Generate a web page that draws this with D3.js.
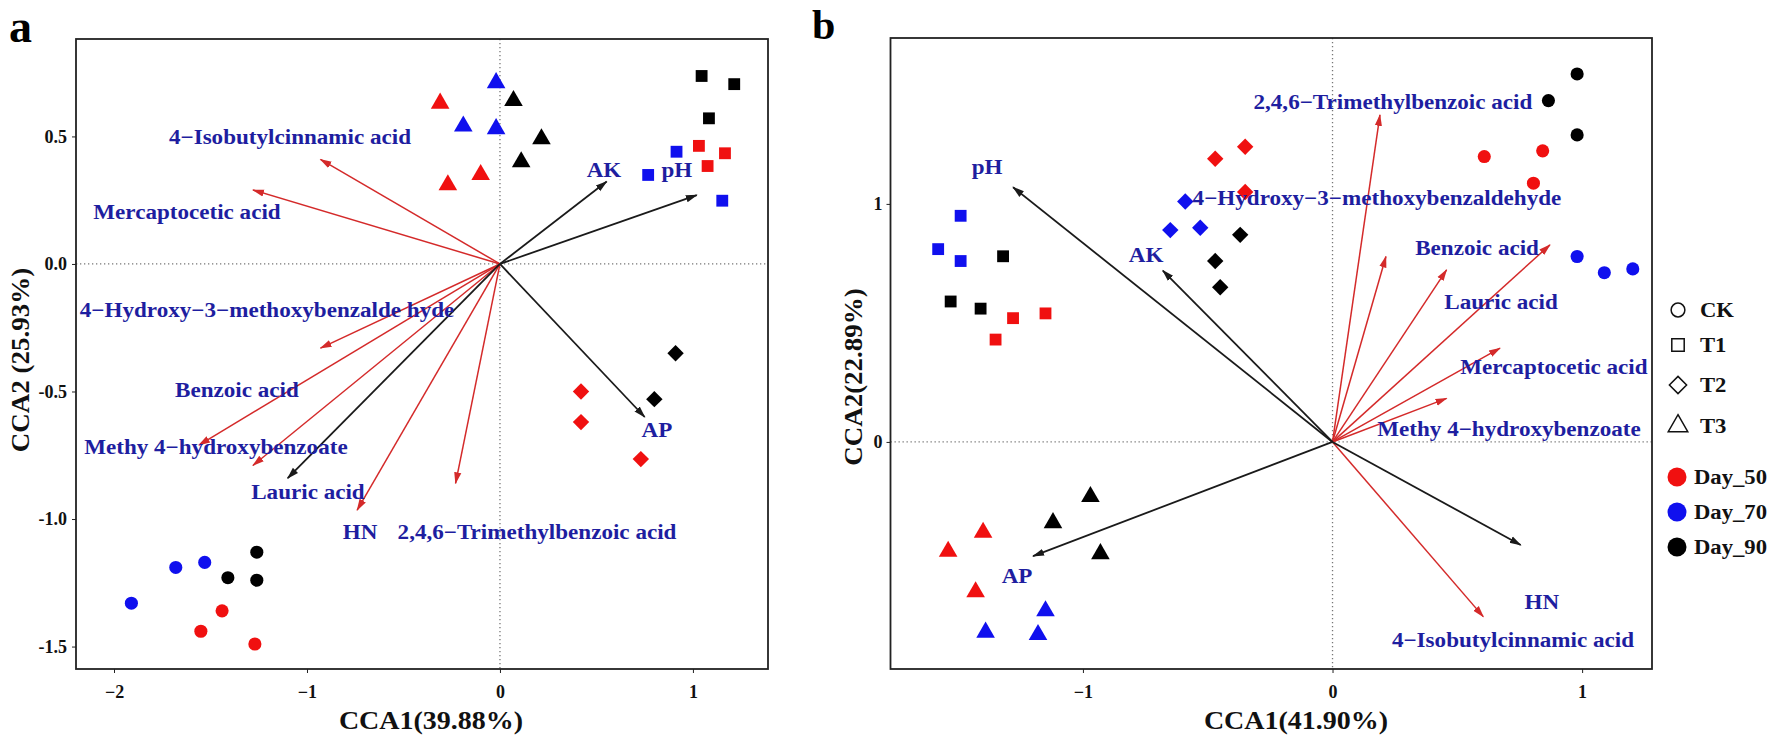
<!DOCTYPE html>
<html>
<head>
<meta charset="utf-8">
<script src="https://cdn.jsdelivr.net/npm/d3@7"></script>
<style>
  body { margin: 0; background: #fff; }
  text { font-family: "Liberation Serif", "Times New Roman", serif; font-weight: bold; }
</style>
</head>
<body>
<script>
// groups
var treatments = ["CK", "T1", "T2", "T3"];
var days = ["Day_50", "Day_70", "Day_90"];
var dayColors = ["#f01010", "#1010ee", "#000000"];

// panel a sites: [CCA1, CCA2, treatment, day]
var sitesA = [
  [-1.91, -1.33, "CK", "Day_70"], [-1.68, -1.19, "CK", "Day_70"], [-1.53, -1.17, "CK", "Day_70"],
  [-1.41, -1.23, "CK", "Day_90"], [-1.26, -1.13, "CK", "Day_90"], [-1.26, -1.24, "CK", "Day_90"],
  [-1.44, -1.36, "CK", "Day_50"], [-1.55, -1.44, "CK", "Day_50"], [-1.27, -1.49, "CK", "Day_50"],
  [1.045, 0.737, "T1", "Day_90"], [1.214, 0.705, "T1", "Day_90"], [1.083, 0.571, "T1", "Day_90"],
  [1.031, 0.463, "T1", "Day_50"], [1.166, 0.434, "T1", "Day_50"], [1.076, 0.384, "T1", "Day_50"],
  [0.915, 0.44, "T1", "Day_70"], [0.768, 0.349, "T1", "Day_70"], [1.152, 0.248, "T1", "Day_70"],
  [0.42, -0.50, "T2", "Day_50"], [0.42, -0.62, "T2", "Day_50"], [0.73, -0.765, "T2", "Day_50"],
  [0.80, -0.53, "T2", "Day_90"], [0.91, -0.35, "T2", "Day_90"],
  [-0.02, 0.71, "T3", "Day_70"], [-0.19, 0.54, "T3", "Day_70"], [-0.02, 0.53, "T3", "Day_70"],
  [-0.31, 0.63, "T3", "Day_50"], [-0.10, 0.35, "T3", "Day_50"], [-0.27, 0.31, "T3", "Day_50"],
  [0.07, 0.64, "T3", "Day_90"], [0.215, 0.49, "T3", "Day_90"], [0.11, 0.40, "T3", "Day_90"]
];

// panel a arrows: [CCA1, CCA2, kind]
var arrowsA = [
  [-0.93, 0.41, "acid"], [-1.28, 0.29, "acid"], [-0.93, -0.33, "acid"], [-1.56, -0.71, "acid"],
  [-1.28, -0.79, "acid"], [-0.74, -0.965, "acid"], [-0.23, -0.86, "acid"],
  [0.553, 0.323, "soil"], [1.02, 0.27, "soil"], [0.75, -0.60, "soil"], [-1.10, -0.84, "soil"]
];

// panel a labels: [text, CCA1, CCA2]
var labelsA = [
  ["4\u2212Isobutylcinnamic acid", -1.088, 0.498],
  ["Mercaptocetic acid", -1.622, 0.204],
  ["4\u2212Hydroxy\u22123\u2212methoxybenzalde hyde", -1.207, -0.18],
  ["Benzoic acid", -1.363, -0.494],
  ["Methy 4\u2212hydroxybenzoate", -1.472, -0.718],
  ["Lauric acid", -0.995, -0.894],
  ["HN", -0.725, -1.051],
  ["2,4,6\u2212Trimethylbenzoic acid", 0.192, -1.051],
  ["AK", 0.539, 0.369],
  ["pH", 0.917, 0.369],
  ["AP", 0.813, -0.651]
];

// panel b sites
var sitesB = [
  [0.98, 1.546, "CK", "Day_90"], [0.865, 1.434, "CK", "Day_90"], [0.98, 1.29, "CK", "Day_90"],
  [0.608, 1.199, "CK", "Day_50"], [0.842, 1.223, "CK", "Day_50"], [0.805, 1.087, "CK", "Day_50"],
  [0.98, 0.779, "CK", "Day_70"], [1.089, 0.711, "CK", "Day_70"], [1.203, 0.727, "CK", "Day_70"],
  [-1.49, 0.95, "T1", "Day_70"], [-1.58, 0.81, "T1", "Day_70"], [-1.49, 0.76, "T1", "Day_70"],
  [-1.32, 0.78, "T1", "Day_90"], [-1.53, 0.59, "T1", "Day_90"], [-1.41, 0.56, "T1", "Day_90"],
  [-1.28, 0.52, "T1", "Day_50"], [-1.15, 0.54, "T1", "Day_50"], [-1.35, 0.43, "T1", "Day_50"],
  [-0.47, 1.19, "T2", "Day_50"], [-0.35, 1.24, "T2", "Day_50"], [-0.35, 1.05, "T2", "Day_50"],
  [-0.59, 1.01, "T2", "Day_70"], [-0.65, 0.89, "T2", "Day_70"], [-0.53, 0.90, "T2", "Day_70"],
  [-0.37, 0.87, "T2", "Day_90"], [-0.47, 0.76, "T2", "Day_90"], [-0.45, 0.65, "T2", "Day_90"],
  [-0.97, -0.23, "T3", "Day_90"], [-1.12, -0.34, "T3", "Day_90"], [-0.93, -0.47, "T3", "Day_90"],
  [-1.40, -0.38, "T3", "Day_50"], [-1.54, -0.46, "T3", "Day_50"], [-1.43, -0.63, "T3", "Day_50"],
  [-1.15, -0.71, "T3", "Day_70"], [-1.39, -0.80, "T3", "Day_70"], [-1.18, -0.81, "T3", "Day_70"]
];

var arrowsB = [
  [0.19, 1.374, "acid"], [0.214, 0.779, "acid"], [0.457, 0.723, "acid"], [0.871, 0.828, "acid"],
  [0.671, 0.394, "acid"], [0.457, 0.183, "acid"], [0.604, -0.734, "acid"],
  [-1.28, 1.07, "soil"], [-0.68, 0.72, "soil"], [-1.20, -0.48, "soil"], [0.754, -0.433, "soil"]
];

var labelsB = [
  ["pH", -1.384, 1.155],
  ["AK", -0.747, 0.786],
  ["AP", -1.264, -0.563],
  ["HN", 0.839, -0.672],
  ["2,4,6\u2212Trimethylbenzoic acid", 0.242, 1.429],
  ["4\u2212Hydroxy\u22123\u2212methoxybenzaldehyde", 0.178, 1.025],
  ["Benzoic acid", 0.579, 0.815],
  ["Lauric acid", 0.675, 0.588],
  ["Mercaptocetic acid", 0.887, 0.315],
  ["Methy 4\u2212hydroxybenzoate", 0.707, 0.055],
  ["4\u2212Isobutylcinnamic acid", 0.723, -0.832]
];

// ticks
var aXTicks = [-2, -1, 0, 1];
var aYTicks = [0.5, 0, -0.5, -1, -1.5];
var bXTicks = [-1, 0, 1];
var bYTicks = [1, 0];

var W = 1769, H = 740;
var labelBlue = "#1e1ea0", arrowRed = "#d42a2a", arrowBlack = "#1a1a1a";

var svg = d3.select("body").append("svg")
    .attr("width", W)
    .attr("height", H);

svg.append("rect").attr("width", W).attr("height", H).attr("fill", "#fff");

var defs = svg.append("defs");
[["head-acid", arrowRed], ["head-soil", arrowBlack]].forEach(function(m) {
  defs.append("marker")
      .attr("id", m[0])
      .attr("markerUnits", "userSpaceOnUse")
      .attr("viewBox", "0 -5 12 10")
      .attr("refX", 11).attr("refY", 0)
      .attr("markerWidth", 12).attr("markerHeight", 10)
      .attr("orient", "auto")
    .append("path")
      .attr("d", "M0,-3.6L12,0L0,3.6Z")
      .attr("fill", m[1]);
});

function shape(t, big) {
  var k = big ? 1.1 : 1;
  if (t === "CK") return d3.symbol(d3.symbolCircle, 135 * k)();
  if (t === "T1") return d3.symbol(d3.symbolSquare, 140 * k)();
  if (t === "T2") { var r = 8.2 * Math.sqrt(k); return "M0," + (-r) + "L" + r + ",0L0," + r + "L" + (-r) + ",0Z"; }
  return d3.symbol(d3.symbolTriangle, 150 * k)();
}

var dayColor = d3.scaleOrdinal().domain(days).range(dayColors);

function fmtA(d) { return d === 0 ? "0.0" : (d < 0 ? "-" : "") + Math.abs(d).toFixed(1); }
function fmtX(d) { return d < 0 ? "\u2212" + Math.abs(d) : String(d); }

// the original figure is slightly stretched sideways, so text is widened a bit
function wide(x, y, sx) {
  return "translate(" + x + "," + y + ") scale(" + sx + ",1)";
}

function panel(o) {
  var x = d3.scaleLinear().domain(o.xDom).range([o.left, o.right]);
  var y = d3.scaleLinear().domain(o.yDom).range([o.bottom, o.top]);
  var g = svg.append("g");

  // zero lines
  g.append("line")
      .attr("x1", x(0)).attr("x2", x(0)).attr("y1", o.top).attr("y2", o.bottom)
      .attr("stroke", "#777").attr("stroke-width", 1.3).attr("stroke-dasharray", "1.3,2.7");
  g.append("line")
      .attr("x1", o.left).attr("x2", o.right).attr("y1", y(0)).attr("y2", y(0))
      .attr("stroke", "#777").attr("stroke-width", 1.3).attr("stroke-dasharray", "1.3,2.7");

  // axes
  var xa = g.append("g").attr("transform", "translate(0," + o.bottom + ")")
      .call(d3.axisBottom(x).tickValues(o.xTicks).tickFormat(fmtX).tickSize(4).tickPadding(12));
  var ya = g.append("g").attr("transform", "translate(" + o.left + ",0)")
      .call(d3.axisLeft(y).tickValues(o.yTicks).tickFormat(o.yFmt).tickSize(4).tickPadding(o.yPad));
  [xa, ya].forEach(function(a) {
    a.select(".domain").remove();
    a.selectAll("line").attr("stroke", "#222");
    a.selectAll("text").attr("font-size", 18).attr("fill", "#111")
        .style("font-family", "'Liberation Serif', serif").style("font-weight", "bold");
  });

  // box
  g.append("rect")
      .attr("x", o.left).attr("y", o.top)
      .attr("width", o.right - o.left).attr("height", o.bottom - o.top)
      .attr("fill", "none").attr("stroke", "#222").attr("stroke-width", 1.8);

  // arrows
  g.selectAll(".arrow")
      .data(o.arrows)
    .enter().append("line")
      .attr("x1", x(0)).attr("y1", y(0))
      .attr("x2", function(d) { return x(d[0]); })
      .attr("y2", function(d) { return y(d[1]); })
      .attr("stroke", function(d) { return d[2] === "acid" ? arrowRed : arrowBlack; })
      .attr("stroke-width", function(d) { return d[2] === "acid" ? 1.5 : 1.8; })
      .attr("marker-end", function(d) { return "url(#head-" + d[2] + ")"; });

  // sites
  g.selectAll(".site")
      .data(o.sites)
    .enter().append("path")
      .attr("transform", function(d) { return "translate(" + x(d[0]) + "," + y(d[1]) + ")"; })
      .attr("d", function(d) { return shape(d[2], false); })
      .attr("fill", function(d) { return dayColor(d[3]); });

  // labels
  g.selectAll(".lab")
      .data(o.labels)
    .enter().append("text")
      .attr("transform", function(d) { return wide(x(d[1]), y(d[2]), 1.1); })
      .attr("dy", "0.35em")
      .attr("text-anchor", "middle")
      .attr("font-size", 21)
      .attr("fill", labelBlue)
      .text(function(d) { return d[0]; });

  // axis titles
  g.append("text")
      .attr("transform", wide(o.xTitleX, 729, 1.12))
      .attr("text-anchor", "middle").attr("font-size", 25).attr("fill", "#111")
      .text(o.xTitle);
  g.append("text")
      .attr("transform", "translate(" + o.yTitleX + "," + o.yTitleY + ") rotate(-90) scale(1.08,1)")
      .attr("text-anchor", "middle").attr("font-size", 25).attr("fill", "#111")
      .text(o.yTitle);

  g.append("text")
      .attr("x", o.letterX).attr("y", o.letterY)
      .attr("font-size", o.letterSize).attr("fill", "#000")
      .text(o.letter);
}

panel({
  left: 76, right: 768, top: 39, bottom: 669,
  xDom: [-2.197, 1.389], yDom: [-1.588, 0.882],
  xTicks: aXTicks, yTicks: aYTicks, yFmt: fmtA, yPad: 5,
  sites: sitesA, arrows: arrowsA, labels: labelsA,
  xTitle: "CCA1(39.88%)", xTitleX: 431,
  yTitle: "CCA2 (25.93%)", yTitleX: 29, yTitleY: 360,
  letter: "a", letterX: 9, letterY: 42, letterSize: 46
});

panel({
  left: 890.5, right: 1652, top: 38, bottom: 669,
  xDom: [-1.771, 1.28], yDom: [-0.954, 1.697],
  xTicks: bXTicks, yTicks: bYTicks, yFmt: function(d) { return String(d); }, yPad: 4,
  sites: sitesB, arrows: arrowsB, labels: labelsB,
  xTitle: "CCA1(41.90%)", xTitleX: 1296,
  yTitle: "CCA2(22.89%)", yTitleX: 862, yTitleY: 377,
  letter: "b", letterX: 812, letterY: 39, letterSize: 42
});

// legend
var leg = svg.append("g");
var legShapeY = [310, 345, 385, 426];
leg.selectAll(".ls")
    .data(treatments)
  .enter().append("path")
    .attr("transform", function(d, i) { return "translate(1678," + legShapeY[i] + ")"; })
    .attr("d", function(d) { return shape(d, true); })
    .attr("fill", "none").attr("stroke", "#111").attr("stroke-width", 1.5);
leg.selectAll(".lt")
    .data(treatments)
  .enter().append("text")
    .attr("transform", function(d, i) { return wide(1700, legShapeY[i], 1.08); })
    .attr("dy", "0.35em").attr("font-size", 21).attr("fill", "#111")
    .text(function(d) { return d; });

var legDayY = [477, 512, 547];
leg.selectAll(".dc")
    .data(days)
  .enter().append("circle")
    .attr("cx", 1677)
    .attr("cy", function(d, i) { return legDayY[i]; })
    .attr("r", 9.5)
    .attr("fill", function(d) { return dayColor(d); });
leg.selectAll(".dt")
    .data(days)
  .enter().append("text")
    .attr("transform", function(d, i) { return wide(1694, legDayY[i], 1.08); })
    .attr("dy", "0.35em").attr("font-size", 21).attr("fill", "#111")
    .text(function(d) { return d; });
</script>
</body>
</html>
